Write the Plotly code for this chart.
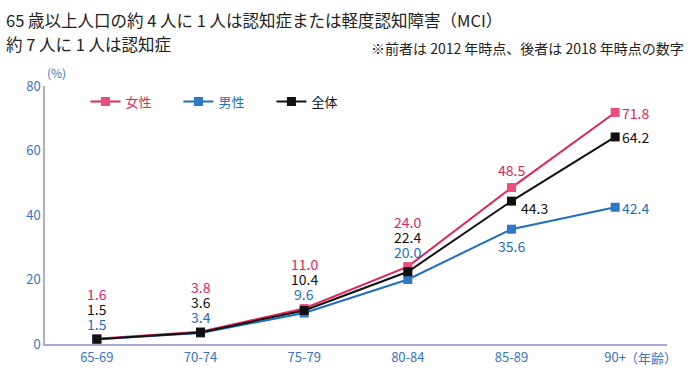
import plotly.graph_objects as go

categories = ["65-69", "70-74", "75-79", "80-84", "85-89", "90+"]
female = [1.6, 3.8, 11.0, 24.0, 48.5, 71.8]
male = [1.5, 3.4, 9.6, 20.0, 35.6, 42.4]
total = [1.5, 3.6, 10.4, 22.4, 44.3, 64.2]
y_ticks = [0, 20, 40, 60, 80]

PINK = "#e5245e"
PINK_M = "#e84f7c"
BLUE = "#1f6ec0"
BLUE_M = "#2e78c8"
BLACK = "#111111"
TICK = "#3a74c2"
FONT = "Noto Sans CJK JP, Noto Sans, sans-serif"

fig = go.Figure()
series = [
    ("女性", female, PINK, PINK_M),
    ("男性", male, BLUE, BLUE_M),
    ("全体", total, BLACK, BLACK),
]
for name, vals, lc, mc in series:
    fig.add_trace(go.Scatter(
        x=categories, y=vals, mode="lines+markers",
        name=f"<span style='color:{lc}'>{name}</span>",
        line=dict(color=lc, width=2),
        marker=dict(symbol="square", size=9, color=mc),
        hoverinfo="skip",
    ))

ann = []
def lab(cat, val, text, color, xshift=0, yshift=0, xanchor="center", size=14):
    ann.append(dict(x=cat, y=val, xref="x", yref="y", text=text, showarrow=False,
                    xanchor=xanchor, yanchor="middle", xshift=xshift, yshift=yshift,
                    height=15, valign="middle", borderpad=0,
                    font=dict(family=FONT, size=size, color=color)))

# stacked labels for first four categories (anchored at female value)
for i in range(4):
    lab(categories[i], female[i], f"{female[i]:.1f}", PINK, yshift=45)
    lab(categories[i], female[i], f"{total[i]:.1f}", BLACK, yshift=30)
    lab(categories[i], female[i], f"{male[i]:.1f}", BLUE, yshift=15)
# 85-89
lab(categories[4], female[4], f"{female[4]:.1f}", PINK, yshift=18)
lab(categories[4], total[4], f"{total[4]:.1f}", BLACK, xshift=8, yshift=-6, xanchor="left")
lab(categories[4], male[4], f"{male[4]:.1f}", BLUE, yshift=-16)
# 90+
lab(categories[5], female[5], f"{female[5]:.1f}", PINK, xshift=6, xanchor="left")
lab(categories[5], total[5], f"{total[5]:.1f}", BLACK, xshift=6, xanchor="left")
lab(categories[5], male[5], f"{male[5]:.1f}", BLUE, xshift=6, xanchor="left")

# titles and notes
ann.append(dict(xref="paper", yref="paper", x=-0.066, y=1.256, xanchor="left", yanchor="middle",
                text="65 歳以上人口の約 4 人に 1 人は認知症または軽度認知障害（MCI）", showarrow=False,
                font=dict(family=FONT, size=16.5, color="#222222")))
ann.append(dict(xref="paper", yref="paper", x=-0.066, y=1.163, xanchor="left", yanchor="middle",
                text="約 7 人に 1 人は認知症", showarrow=False,
                font=dict(family=FONT, size=16.5, color="#222222")))
ann.append(dict(xref="paper", yref="paper", x=1.030, y=1.147, xanchor="right", yanchor="middle",
                text="※前者は 2012 年時点、後者は 2018 年時点の数字", showarrow=False,
                font=dict(family=FONT, size=14, color="#222222")))
ann.append(dict(xref="paper", yref="paper", x=0.0, y=1.0, xanchor="left", yanchor="bottom", yshift=3,
                text="(%)", showarrow=False, font=dict(family=FONT, size=12, color=TICK)))
ann.append(dict(xref="x", yref="paper", x=categories[5], y=0, xanchor="left", yanchor="middle",
                xshift=8, yshift=-13, text="（年齢）", showarrow=False,
                font=dict(family=FONT, size=13, color=TICK)))

fig.update_layout(
    width=690, height=387,
    margin=dict(l=45, r=23, t=86, b=43),
    paper_bgcolor="white", plot_bgcolor="white",
    font=dict(family=FONT, color=TICK),
    showlegend=True,
    legend=dict(orientation="h", x=0.065, y=0.94, xanchor="left", yanchor="middle",
                font=dict(family=FONT, size=13), entrywidth=48, entrywidthmode="pixels",
                bgcolor="rgba(0,0,0,0)", itemclick=False, itemdoubleclick=False),
    annotations=ann,
    xaxis=dict(type="category", range=[-0.5, 5.5], showgrid=False, zeroline=False,
               showline=True, linecolor="#a8a8d8", linewidth=2, ticks="",
               tickfont=dict(family=FONT, size=13, color=TICK)),
    yaxis=dict(range=[0, 80], tickvals=y_ticks, showgrid=False, zeroline=False,
               showline=True, linecolor="#b0b0b0", linewidth=1.5, ticks="",
               tickfont=dict(family=FONT, size=13, color=TICK)),
)

fig.write_html("out.html", config={"displayModeBar": False},
               post_script="document.body.style.margin='0px';")
